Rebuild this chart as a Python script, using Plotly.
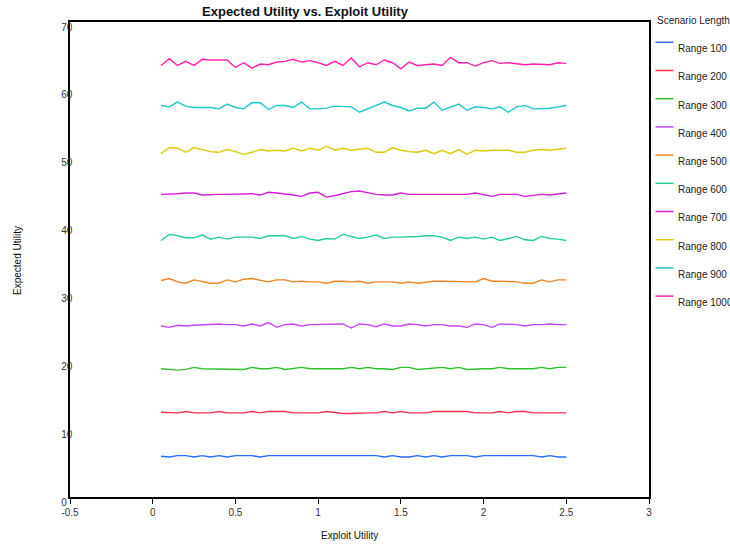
import plotly.graph_objects as go

# Exploit utility sampled from 0.05 to 2.5 in steps of 0.05
exploit_utility = [round(0.05 * k, 2) for k in range(1, 51)]

series_names = ["Range 100", "Range 200", "Range 300", "Range 400", "Range 500",
                "Range 600", "Range 700", "Range 800", "Range 900", "Range 1000"]

series_colors = ["#2a6bff", "#f5334f", "#30c030", "#c445ff", "#ef8424",
                 "#22cf9c", "#d21fd8", "#dccb08", "#1ec6c8", "#ff22a8"]

range_100 = [6.0, 5.9, 6.1, 6.1, 5.9, 6.1, 5.9, 6.1, 5.9, 6.1, 6.1, 6.1, 5.9, 6.1, 6.1,
             6.1, 6.1, 6.1, 6.1, 6.1, 6.1, 6.1, 6.1, 6.1, 6.1, 6.1, 6.1, 5.9, 6.1, 5.9,
             5.9, 6.1, 5.9, 6.1, 5.9, 6.1, 6.1, 6.1, 5.9, 6.1, 6.1, 6.1, 6.1, 6.1, 6.1,
             6.1, 5.9, 6.1, 5.9, 5.9]
range_200 = [12.5, 12.4, 12.4, 12.6, 12.4, 12.4, 12.4, 12.6, 12.4, 12.4, 12.4, 12.6, 12.4,
             12.6, 12.6, 12.6, 12.4, 12.4, 12.4, 12.4, 12.6, 12.4, 12.3, 12.3, 12.4, 12.4,
             12.4, 12.6, 12.4, 12.6, 12.4, 12.4, 12.4, 12.6, 12.6, 12.6, 12.6, 12.6, 12.4,
             12.4, 12.4, 12.6, 12.4, 12.6, 12.6, 12.4, 12.4, 12.4, 12.4, 12.4]
range_300 = [18.9, 18.8, 18.7, 18.8, 19.1, 18.9, 18.9, 18.9, 18.8, 18.9, 18.8, 19.1, 18.9,
             18.9, 19.1, 18.8, 18.9, 19.1, 18.9, 18.9, 18.9, 18.8, 18.9, 19.1, 18.9, 19.1,
             18.9, 18.9, 18.8, 19.1, 19.1, 18.8, 18.9, 18.9, 19.1, 18.9, 19.1, 18.8, 18.9,
             18.9, 18.9, 19.1, 18.9, 18.9, 18.9, 18.9, 19.1, 18.9, 19.1, 19.1]
range_400 = [25.2, 25.0, 25.3, 25.2, 25.3, 25.4, 25.4, 25.5, 25.4, 25.4, 25.2, 25.5, 25.2,
             25.7, 25.0, 25.4, 25.5, 25.2, 25.4, 25.4, 25.4, 25.4, 25.5, 24.9, 25.5, 25.4,
             25.1, 25.5, 25.2, 25.2, 25.5, 25.4, 25.2, 25.4, 25.4, 25.2, 25.2, 25.0, 25.5,
             25.4, 25.0, 25.5, 25.5, 25.4, 25.2, 25.4, 25.4, 25.5, 25.4, 25.4]
range_500 = [31.9, 32.2, 31.7, 31.5, 32.0, 31.7, 31.5, 31.5, 32.0, 31.7, 32.1, 32.2, 32.0,
             31.7, 32.0, 32.0, 31.7, 31.8, 31.7, 31.7, 31.5, 31.8, 31.8, 31.7, 31.8, 31.5,
             31.7, 31.7, 31.7, 31.5, 31.7, 31.5, 31.7, 31.8, 31.8, 31.8, 31.8, 31.7, 31.7,
             32.2, 31.8, 31.8, 31.8, 31.7, 31.5, 31.5, 32.0, 31.7, 32.0, 32.0]
range_600 = [37.8, 38.7, 38.5, 38.2, 38.2, 38.6, 38.0, 38.3, 38.0, 38.3, 38.3, 38.3, 38.1,
             38.5, 38.5, 38.5, 38.1, 38.4, 38.0, 37.8, 38.1, 38.0, 38.7, 38.4, 38.1, 38.3,
             38.6, 38.1, 38.3, 38.3, 38.3, 38.4, 38.5, 38.5, 38.3, 37.8, 38.3, 38.1, 38.3,
             38.0, 38.3, 37.8, 38.1, 38.4, 37.9, 37.8, 38.4, 38.1, 38.0, 37.8]
range_700 = [44.6, 44.6, 44.7, 44.8, 44.8, 44.5, 44.6, 44.6, 44.6, 44.6, 44.7, 44.7, 44.5,
             44.9, 44.8, 44.7, 44.5, 44.3, 44.8, 44.9, 44.2, 44.4, 44.7, 45.0, 45.1, 44.8,
             44.6, 44.5, 44.5, 44.8, 44.6, 44.6, 44.6, 44.6, 44.5, 44.6, 44.6, 44.6, 44.8,
             44.6, 44.3, 44.6, 44.6, 44.6, 44.3, 44.5, 44.6, 44.5, 44.6, 44.8]
range_800 = [50.6, 51.5, 51.4, 50.8, 51.5, 51.2, 50.9, 50.8, 51.2, 50.9, 50.5, 50.8, 51.2,
             51.0, 51.1, 51.0, 51.4, 51.0, 51.4, 51.1, 51.7, 51.1, 51.4, 51.1, 51.3, 51.4,
             50.8, 50.8, 51.5, 51.1, 50.9, 50.8, 51.1, 50.6, 51.1, 50.6, 51.2, 50.5, 51.1,
             51.0, 51.1, 51.1, 51.1, 50.8, 50.8, 51.1, 51.2, 51.1, 51.2, 51.4]
range_900 = [57.7, 57.5, 58.2, 57.6, 57.4, 57.4, 57.4, 57.2, 57.9, 57.4, 57.2, 58.1, 58.1,
             57.1, 57.7, 57.7, 57.4, 58.2, 57.2, 57.2, 57.3, 57.6, 57.5, 57.5, 56.7, 57.2,
             57.7, 58.2, 57.7, 57.4, 56.9, 57.3, 57.3, 58.2, 57.0, 57.4, 57.9, 57.0, 57.5,
             57.4, 57.2, 57.5, 56.7, 57.5, 57.7, 57.2, 57.2, 57.3, 57.5, 57.7]
range_1000 = [63.6, 64.6, 63.6, 64.2, 63.6, 64.5, 64.4, 64.4, 64.4, 63.3, 64.0, 63.2, 63.8,
              63.7, 64.1, 64.2, 64.5, 64.1, 64.3, 64.0, 63.6, 64.2, 63.6, 64.7, 63.4, 64.0,
              63.7, 64.4, 64.0, 63.1, 64.1, 63.6, 63.7, 63.8, 63.6, 64.8, 64.0, 64.0, 63.5,
              64.0, 64.3, 63.9, 64.0, 63.9, 63.7, 63.8, 63.7, 63.7, 64.0, 63.9]

series_values = [range_100, range_200, range_300, range_400, range_500,
                 range_600, range_700, range_800, range_900, range_1000]

x_tick_values = [-0.5, 0, 0.5, 1, 1.5, 2, 2.5, 3]
x_tick_labels = ["-0.5", "0", "0.5", "1", "1.5", "2", "2.5", "3"]
y_tick_values = [0, 10, 20, 30, 40, 50, 60, 70]
y_tick_labels = ["0", "10", "20", "30", "40", "50", "60", "70"]

FONT = "Liberation Sans, Arial, sans-serif"

# Plot box in pixels (left, right, top, bottom) inside the 730x544 canvas
BOX_L, BOX_R, BOX_T, BOX_B = 70, 649, 22, 497
BOX_W, BOX_H = BOX_R - BOX_L, BOX_B - BOX_T


def px_x(px):
    return (px - BOX_L) / BOX_W


def px_y(py):
    return (BOX_B - py) / BOX_H


# y labels are left-aligned: pad shorter labels with no-break spaces (two per digit)
widest = max(len(t) for t in y_tick_labels)
y_tick_text = [t + "\u00a0" * (2 * (widest - len(t))) for t in y_tick_labels]

fig = go.Figure()
for name, color, values in zip(series_names, series_colors, series_values):
    fig.add_trace(go.Scatter(
        x=exploit_utility, y=values, name=name, mode="lines",
        line=dict(color=color, width=1.4), showlegend=False,
    ))

# Legend key: a short coloured stroke with the series name just below-right of it
legend_shapes = []
legend_notes = [
    dict(text="Scenario Length", xref="paper", yref="paper",
         x=px_x(655), y=px_y(20.5), xanchor="left", yanchor="middle",
         showarrow=False, font=dict(size=10, color="#222")),
]
for i, (name, color) in enumerate(zip(series_names, series_colors)):
    key_y = 42.3 + 28.2 * i
    legend_shapes.append(dict(
        type="line", xref="paper", yref="paper",
        x0=px_x(655.5), x1=px_x(673.5), y0=px_y(key_y), y1=px_y(key_y),
        line=dict(color=color, width=1.5),
    ))
    legend_notes.append(dict(
        text=name, xref="paper", yref="paper",
        x=px_x(676), y=px_y(key_y + 6.4), xanchor="left", yanchor="middle",
        showarrow=False, font=dict(size=10, color="#222"),
    ))

fig.update_layout(
    width=730, height=544,
    margin=dict(l=BOX_L, r=730 - BOX_R, t=BOX_T, b=544 - BOX_B, autoexpand=False),
    plot_bgcolor="white", paper_bgcolor="white",
    font=dict(family=FONT, size=10, color="#333"),
    title=dict(text="<b>Expected Utility vs. Exploit Utility</b>",
               x=305 / 730, xanchor="center", y=1 - 11 / 544, yanchor="middle",
               font=dict(family=FONT, size=13, color="#111")),
    showlegend=False,
    xaxis=dict(
        range=[-0.5, 3], tickvals=x_tick_values, ticktext=x_tick_labels,
        showline=True, linecolor="black", linewidth=1.5, mirror=True,
        ticks="outside", ticklen=5, tickcolor="black", tickwidth=1.2,
        showgrid=False, zeroline=False,
        tickfont=dict(size=10, color="#333"),
    ),
    yaxis=dict(
        range=[0, 70], tickvals=y_tick_values, ticktext=y_tick_text,
        showline=True, linecolor="black", linewidth=1.5, mirror=True,
        ticks="", showgrid=False, zeroline=False,
        ticklabelstandoff=-6, ticklabelshift=5,
        tickfont=dict(size=10, color="#333"),
    ),
    shapes=legend_shapes,
    annotations=[
        dict(text="Exploit Utility", xref="paper", yref="paper",
             x=px_x(349), y=px_y(535), xanchor="center", yanchor="middle",
             showarrow=False, font=dict(size=10, color="#111")),
        dict(text="Expected Utility", xref="paper", yref="paper",
             x=px_x(17), y=px_y(261), xanchor="center", yanchor="middle",
             textangle=-90, showarrow=False, font=dict(size=10, color="#111")),
    ] + legend_notes,
)

fig.write_html("out.html")
